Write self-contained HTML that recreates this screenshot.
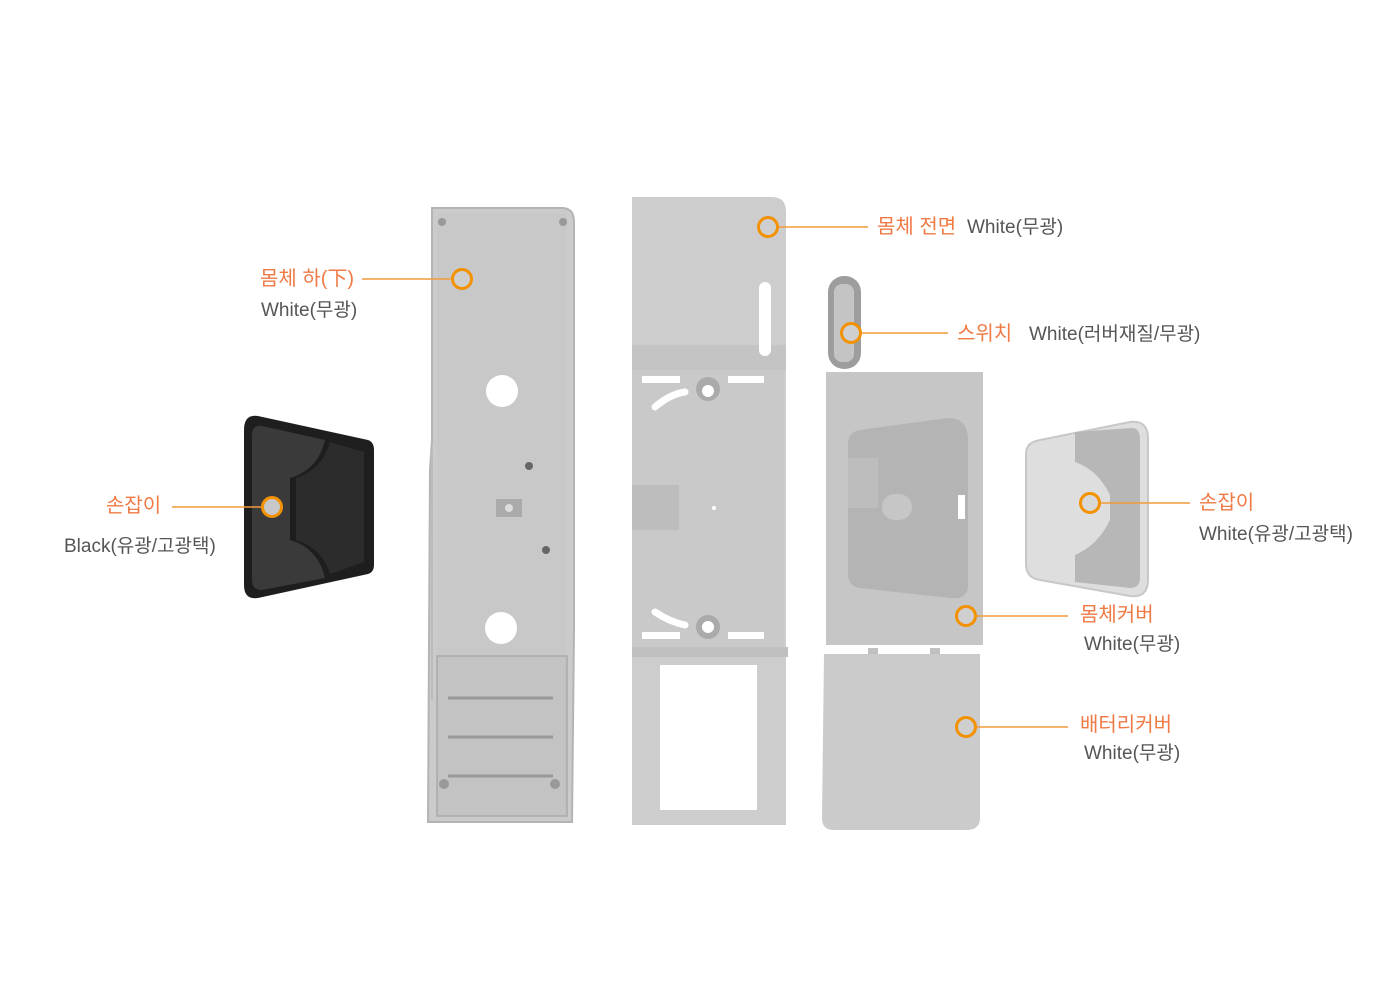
<!DOCTYPE html>
<html><head><meta charset="utf-8"><style>
html,body{margin:0;padding:0;background:#fff;width:1400px;height:1000px;overflow:hidden}
svg{display:block}
.o{fill:#f07a45;font-family:"Liberation Sans","Noto Sans CJK KR",sans-serif;font-size:20px}
.g{fill:#555;font-family:"Liberation Sans","Noto Sans CJK KR",sans-serif;font-size:19px}
</style></head><body>
<svg width="1400" height="1000" viewBox="0 0 1400 1000" xmlns="http://www.w3.org/2000/svg">
<!-- left black handle -->
<path d="M258 416 L368 440 Q374 442 374 450 L374 565 Q374 572 368 574 L258 598 Q244 600 244 585 L244 430 Q244 414 258 416Z" fill="#1e1e1e"/>
<path d="M262 426 L325 440 Q318 470 290 478 L290 540 Q318 548 325 578 L262 590 Q252 590 252 580 L252 436 Q252 424 262 426Z" fill="#3a3a3a"/>
<path d="M330 442 L364 452 L364 562 L330 574 Q322 548 296 540 L296 478 Q322 470 330 442Z" fill="#2c2c2c"/>
<!-- left body panel -->
<path d="M432 208 L562 208 Q574 208 574 222 L574 630 L572 822 L428 822 L430 470 L432 440Z" fill="#cbcbcb" stroke="#b4b4b4" stroke-width="2"/>
<rect x="437" y="214" width="130" height="600" fill="#c8c8c8"/>
<line x1="432" y1="450" x2="432" y2="700" stroke="#bbb" stroke-width="2"/>
<circle cx="502" cy="391" r="16" fill="#fff"/>
<circle cx="501" cy="628" r="16" fill="#fff"/>
<circle cx="529" cy="466" r="4" fill="#666"/>
<circle cx="546" cy="550" r="4" fill="#666"/>
<rect x="496" y="499" width="26" height="18" fill="#aaa"/><circle cx="509" cy="508" r="4" fill="#ddd"/>
<rect x="437" y="656" width="130" height="160" fill="#c3c3c3" stroke="#aaa" stroke-width="1.5"/>
<g stroke="#999" stroke-width="3" fill="none"><line x1="448" y1="698" x2="553" y2="698"/><line x1="448" y1="737" x2="553" y2="737"/><line x1="448" y1="776" x2="553" y2="776"/></g>
<circle cx="442" cy="222" r="4" fill="#999"/><circle cx="563" cy="222" r="4" fill="#999"/><circle cx="444" cy="784" r="5" fill="#999"/><circle cx="555" cy="784" r="5" fill="#999"/>
<!-- middle front -->
<path d="M632 197 L772 197 Q786 197 786 212 L786 825 L632 825Z" fill="#cdcdcd"/>
<rect x="632" y="345" width="154" height="25" fill="#c4c4c4"/>
<rect x="632" y="370" width="152" height="280" fill="#c9c9c9"/>
<rect x="759" y="282" width="12" height="74" rx="6" fill="#fff"/>
<rect x="642" y="376" width="38" height="7" fill="#fff"/><rect x="728" y="376" width="36" height="7" fill="#fff"/>
<rect x="642" y="632" width="38" height="7" fill="#fff"/><rect x="728" y="632" width="36" height="7" fill="#fff"/>
<circle cx="708" cy="389" r="12" fill="#aaa"/><circle cx="708" cy="391" r="6" fill="#fff"/>
<circle cx="708" cy="627" r="12" fill="#aaa"/><circle cx="708" cy="627" r="6" fill="#fff"/>
<path d="M655 407 Q670 394 685 392" stroke="#fff" stroke-width="7" fill="none" stroke-linecap="round"/>
<path d="M655 612 Q670 622 685 625" stroke="#fff" stroke-width="7" fill="none" stroke-linecap="round"/>
<rect x="632" y="485" width="47" height="45" fill="#bdbdbd"/>
<circle cx="714" cy="508" r="2" fill="#fff"/>
<rect x="632" y="647" width="156" height="10" fill="#c0c0c0"/>
<rect x="660" y="665" width="97" height="145" fill="#fff"/>
<!-- switch -->
<rect x="828" y="276" width="33" height="93" rx="16" fill="#9d9d9d"/>
<rect x="834" y="284" width="20" height="78" rx="8" fill="#c4c4c4"/>
<!-- body cover -->
<rect x="826" y="372" width="157" height="273" fill="#c6c6c6"/>
<path d="M860 430 L948 418 Q968 418 968 440 L968 585 Q968 600 950 598 L860 588 Q848 586 848 574 L848 444 Q848 432 860 430Z" fill="#b4b4b4"/>
<rect x="848" y="458" width="30" height="50" fill="#bdbdbd"/>
<rect x="882" y="494" width="30" height="26" rx="13" fill="#c6c6c6"/>
<rect x="958" y="495" width="7" height="24" fill="#fff"/>
<!-- battery cover -->
<rect x="868" y="648" width="10" height="6" fill="#c0c0c0"/><rect x="930" y="648" width="10" height="6" fill="#c0c0c0"/>
<path d="M824 654 L980 654 L980 818 Q980 830 966 830 L834 830 Q822 830 822 818Z" fill="#cbcbcb"/>
<!-- white handle -->
<path d="M1040 440 L1130 422 Q1148 420 1148 438 L1148 580 Q1148 598 1130 596 L1040 580 Q1026 578 1026 564 L1026 454 Q1026 442 1040 440Z" fill="#dedede" stroke="#c8c8c8" stroke-width="2"/>
<path d="M1075 432 L1132 428 Q1140 428 1140 440 L1140 578 Q1140 588 1130 588 L1075 582 L1075 555 Q1098 545 1110 520 L1110 495 Q1098 470 1075 462Z" fill="#b7b7b7"/>
<!-- connectors -->
<g stroke="#f39a3c" stroke-width="1.6"><line x1="362" y1="279" x2="452" y2="279"/><line x1="778" y1="227" x2="868" y2="227"/><line x1="861" y1="333" x2="948" y2="333"/><line x1="172" y1="507" x2="262" y2="507"/><line x1="1100" y1="503" x2="1190" y2="503"/><line x1="976" y1="616" x2="1068" y2="616"/><line x1="976" y1="727" x2="1068" y2="727"/></g>
<g stroke="#f39200" stroke-width="3" fill="#cfcfcf"><circle cx="462" cy="279" r="9.5"/><circle cx="768" cy="227" r="9.5"/><circle cx="851" cy="333" r="9.5"/><circle cx="272" cy="507" r="9.5" fill="#c8c8c8"/><circle cx="1090" cy="503" r="9.5" fill="#d8d8d8"/><circle cx="966" cy="616" r="9.5"/><circle cx="966" cy="727" r="9.5"/></g>
<!-- labels -->
<text class="o" x="260" y="285">몸체 하(下)</text><text class="g" x="261" y="316">White(무광)</text>
<text class="o" x="877" y="233">몸체 전면</text><text class="g" x="967" y="233">White(무광)</text>
<text class="o" x="957" y="340">스위치</text><text class="g" x="1029" y="340">White(러버재질/무광)</text>
<text class="o" x="106" y="512">손잡이</text><text class="g" x="64" y="552">Black(유광/고광택)</text>
<text class="o" x="1199" y="509">손잡이</text><text class="g" x="1199" y="540">White(유광/고광택)</text>
<text class="o" x="1080" y="621">몸체커버</text><text class="g" x="1084" y="650">White(무광)</text>
<text class="o" x="1080" y="731">배터리커버</text><text class="g" x="1084" y="759">White(무광)</text>
</svg>
</body></html>
